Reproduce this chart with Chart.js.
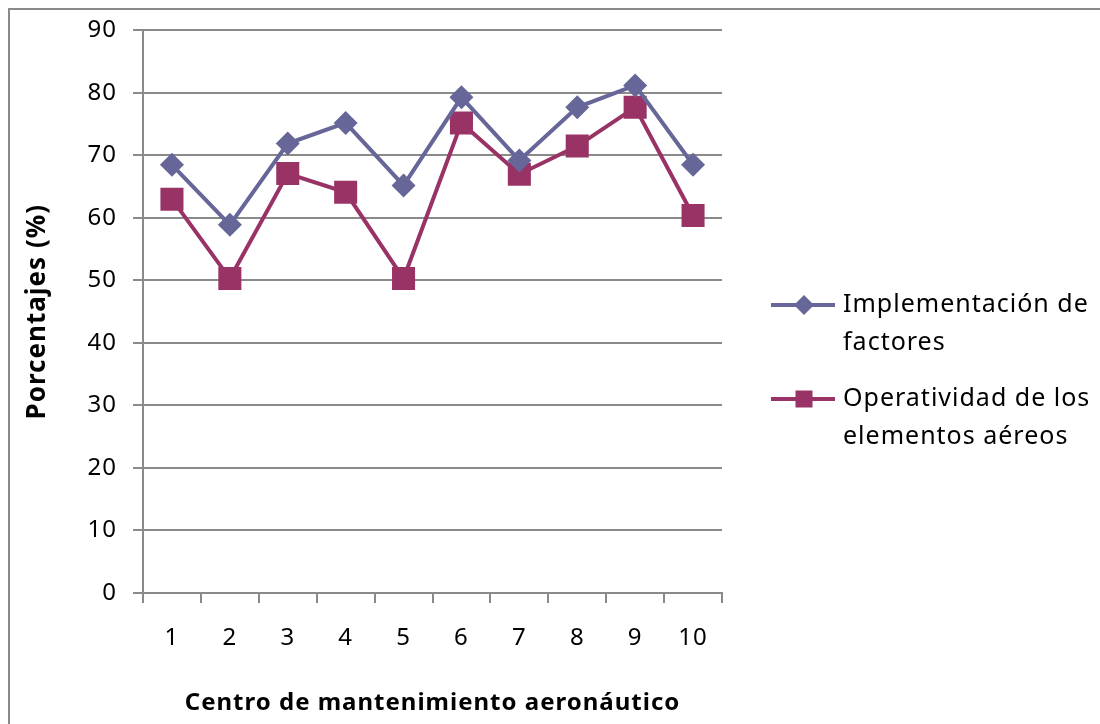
<!DOCTYPE html>
<html lang="es">
<head>
<meta charset="UTF-8">
<title>Centro de mantenimiento aeronáutico</title>
<script src="https://cdn.jsdelivr.net/npm/chart.js"></script>
<style>
    body { margin: 0; background: #fff; }
</style>
</head>
<body>
<canvas id="chartCanvas" width="1100" height="724"></canvas>
<script>
// data
const centros = ['1', '2', '3', '4', '5', '6', '7', '8', '9', '10'];
const implementacion = [68.5, 58.9, 71.9, 75.2, 65.2, 79.3, 69.2, 77.7, 81.2, 68.5];
const operatividad = [63.0, 50.3, 67.1, 64.1, 50.3, 75.2, 67.0, 71.5, 77.7, 60.4];
const yMin = 0, yMax = 90, yStep = 10;
const serieNombres = [['Implementación de', 'factores'], ['Operatividad de los', 'elementos aéreos']];

const GRIS = '#8a8a8a';
const FONT = '"Noto Sans", "Open Sans", sans-serif';

// gray frame around the whole chart + the wide letter spacing of the original
const frame = {
    id: 'frame',
    beforeUpdate(chart) { chart.ctx.letterSpacing = '1px'; },
    beforeDraw(chart) {
        const ctx = chart.ctx;
        ctx.letterSpacing = '1px';
        ctx.save();
        ctx.fillStyle = '#fff';
        ctx.fillRect(0, 0, chart.width, chart.height);
        ctx.strokeStyle = GRIS;
        ctx.lineWidth = 2;
        ctx.strokeRect(9, 9, chart.width + 20, chart.height + 20);
        ctx.restore();
    }
};

// legend on the right, with wrapped labels
const sideLegend = {
    id: 'sideLegend',
    afterDraw(chart) {
        const ctx = chart.ctx;
        const x0 = chart.chartArea.right + 49;
        let y = 305;
        chart.data.datasets.forEach((ds, i) => {
            ctx.save();
            ctx.strokeStyle = ds.borderColor;
            ctx.lineWidth = 4;
            ctx.beginPath();
            ctx.moveTo(x0, y);
            ctx.lineTo(x0 + 64, y);
            ctx.stroke();
            ctx.fillStyle = ds.pointBackgroundColor;
            const cx = x0 + 33;
            ctx.beginPath();
            if (ds.pointStyle === 'rectRot') {
                ctx.moveTo(cx - 10, y);
                ctx.lineTo(cx, y - 10);
                ctx.lineTo(cx + 10, y);
                ctx.lineTo(cx, y + 10);
                ctx.closePath();
            } else {
                ctx.rect(cx - 8.5, y - 8.5, 17, 17);
            }
            ctx.fill();
            ctx.fillStyle = '#000';
            ctx.font = '25px ' + FONT;
            ctx.letterSpacing = '1px';
            ctx.textBaseline = 'middle';
            serieNombres[i].forEach((line, j) => {
                ctx.fillText(line, x0 + 72, y + j * 38);
            });
            ctx.restore();
            y += 94;
        });
    }
};

const ctx = document.getElementById('chartCanvas').getContext('2d');
new Chart(ctx, {
    type: 'line',
    data: {
        labels: centros,
        datasets: [{
            label: serieNombres[0].join(' '),
            data: implementacion,
            borderColor: '#666699',
            backgroundColor: '#666699',
            pointBackgroundColor: '#666699',
            pointStyle: 'rectRot',
            pointRadius: 12,
            pointBorderWidth: 0,
            borderWidth: 4,
            tension: 0
        }, {
            label: serieNombres[1].join(' '),
            data: operatividad,
            borderColor: '#993366',
            backgroundColor: '#993366',
            pointBackgroundColor: '#993366',
            pointStyle: 'rect',
            pointRadius: 16.3,
            pointBorderWidth: 0,
            borderWidth: 4,
            tension: 0
        }]
    },
    options: {
        responsive: false,
        animation: false,
        layout: { padding: { top: 30, right: 378, left: 0, bottom: 0 } },
        plugins: {
            legend: { display: false },
            tooltip: { enabled: false }
        },
        scales: {
            x: {
                offset: true,
                grid: { offset: true, drawOnChartArea: false, tickLength: 10, color: GRIS, lineWidth: 2 },
                border: { color: GRIS, width: 2 },
                ticks: { color: '#000', font: { family: FONT, size: 24 }, padding: 21, maxRotation: 0 },
                title: {
                    display: true,
                    text: 'Centro de mantenimiento aeronáutico',
                    color: '#000',
                    font: { family: FONT, size: 24, weight: 'bold' },
                    padding: { top: 0, bottom: 6 }
                },
                afterFit(scale) { scale.height = 131; }
            },
            y: {
                min: yMin,
                max: yMax,
                ticks: { stepSize: yStep, color: '#000', font: { family: FONT, size: 24 }, padding: 16 },
                grid: { color: GRIS, lineWidth: 2, tickLength: 10 },
                border: { color: GRIS, width: 2 },
                title: {
                    display: true,
                    text: 'Porcentajes (%)',
                    color: '#000',
                    font: { family: FONT, size: 26, weight: 'bold' },
                    padding: { top: 22, bottom: 0 }
                },
                afterFit(scale) { scale.width = 143; }
            }
        }
    },
    plugins: [frame, sideLegend]
});
</script>
</body>
</html>
